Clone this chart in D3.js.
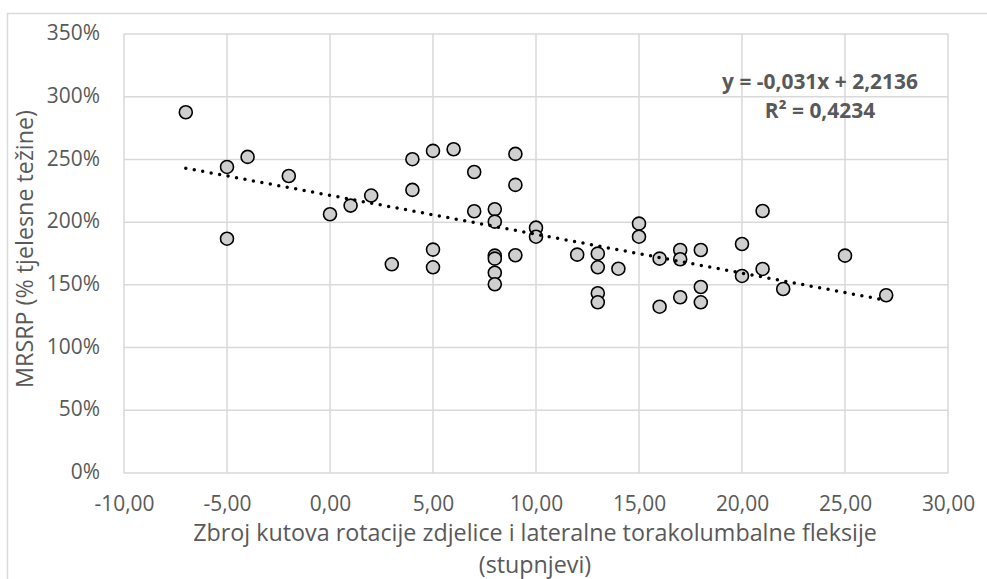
<!DOCTYPE html>
<html>
<head>
<meta charset="utf-8">
<script src="https://cdn.jsdelivr.net/npm/d3@7"></script>
<style>
  html, body { margin: 0; padding: 0; background: #ffffff; }
  svg { display: block; }
</style>
</head>
<body>
<div id="chart"></div>
<script>
// ---- data ----
const xValues = [-7, -5, -5, -4, -2, 0, 1, 2, 3, 4, 4, 5, 5, 5, 6, 7, 7,
  8, 8, 8, 8, 8, 8, 9, 9, 9, 10, 10, 12, 13, 13, 13, 13, 14, 15, 15,
  16, 16, 17, 17, 17, 18, 18, 18, 20, 20, 21, 21, 22, 25, 27];
const yValues = [2.876, 2.44, 1.868, 2.52, 2.368, 2.063, 2.132, 2.212, 1.664, 2.502, 2.257, 2.568, 1.781, 1.64, 2.581, 2.40, 2.087,
  2.103, 2.004, 1.733, 1.709, 1.597, 1.505, 2.544, 2.297, 1.736, 1.956, 1.884, 1.741, 1.749, 1.64, 1.433, 1.361, 1.629, 1.988, 1.884,
  1.709, 1.326, 1.778, 1.704, 1.401, 1.778, 1.483, 1.361, 1.826, 1.571, 2.089, 1.627, 1.467, 1.733, 1.417];
const xTicks = [-10, -5, 0, 5, 10, 15, 20, 25, 30];
const yTicks = [0, 0.5, 1, 1.5, 2, 2.5, 3, 3.5];
const trendSlope = -0.031;
const trendIntercept = 2.2136;
const equationLines = ["y = -0,031x + 2,2136", "R² = 0,4234"];
const xTitleLines = ["Zbroj kutova rotacije zdjelice i lateralne torakolumbalne fleksije", "(stupnjevi)"];
const yTitle = "MRSRP (% tjelesne težine)";

// ---- layout ----
const W = 987, H = 579;
const plot = { left: 124, right: 948, top: 34, bottom: 473 };
const FONT = "'Open Sans', 'Noto Sans', sans-serif";
const TXT = "#595959";
const GRID = "#d9d9d9";

const svg = d3.select("#chart").append("svg").attr("width", W).attr("height", H);

function fitSize(sample, target, weight) {
  const t = svg.append("text").attr("font-family", FONT).attr("font-size", 100)
    .attr("font-weight", weight || "normal").text(sample);
  const w = t.node().getComputedTextLength();
  t.remove();
  return 100 * target / w;
}
const tickSize = fitSize("-10,00", 60);
const titleSize = fitSize(xTitleLines[0], 684);
const eqSize = fitSize(equationLines[0], 196, "bold");

// chart outer border
svg.append("rect").attr("x", 7.5).attr("y", 13.5).attr("width", W + 20).attr("height", H + 20)
  .attr("fill", "none").attr("stroke", GRID).attr("stroke-width", 1.5);

const x = d3.scaleLinear().domain([-10, 30]).range([plot.left, plot.right]);
const y = d3.scaleLinear().domain([0, 3.5]).range([plot.bottom, plot.top]);

// gridlines
const g = svg.append("g");
g.selectAll("line.vg").data(xTicks).join("line").attr("class", "vg")
  .attr("x1", d => x(d)).attr("x2", d => x(d)).attr("y1", plot.top).attr("y2", plot.bottom)
  .attr("stroke", GRID).attr("stroke-width", 1.5);
g.selectAll("line.hg").data(yTicks).join("line").attr("class", "hg")
  .attr("y1", d => y(d)).attr("y2", d => y(d)).attr("x1", plot.left).attr("x2", plot.right)
  .attr("stroke", GRID).attr("stroke-width", 1.5);

// axes (labels only)
const xAxis = d3.axisBottom(x).tickValues(xTicks).tickSize(0).tickPadding(0)
  .tickFormat(d => d3.format(".2f")(d).replace(".", ",").replace("−", "-"));
const xa = svg.append("g").attr("transform", `translate(0,${plot.bottom})`).call(xAxis);
xa.select(".domain").remove();
xa.selectAll("text").attr("font-family", FONT).attr("font-size", tickSize).attr("fill", TXT)
  .attr("dy", null).attr("y", 32).attr("dominant-baseline", "middle");

const yAxis = d3.axisLeft(y).tickValues(yTicks).tickSize(0).tickPadding(0)
  .tickFormat(d3.format(".0%"));
const ya = svg.append("g").attr("transform", `translate(${plot.left},0)`).call(yAxis);
ya.select(".domain").remove();
ya.selectAll("text").attr("font-family", FONT).attr("font-size", tickSize).attr("fill", TXT)
  .attr("x", -24).attr("dy", null).attr("dominant-baseline", "middle");

// axis titles
svg.append("g").selectAll("text").data(xTitleLines).join("text")
  .attr("x", 535).attr("y", (d, i) => 535 + i * 32)
  .attr("text-anchor", "middle").attr("dominant-baseline", "middle")
  .attr("font-family", FONT).attr("font-size", titleSize).attr("fill", TXT).text(d => d);

svg.append("text").attr("transform", `translate(27,249) rotate(-90)`)
  .attr("text-anchor", "middle").attr("dominant-baseline", "middle")
  .attr("font-family", FONT).attr("font-size", titleSize).attr("fill", TXT).text(yTitle);

// points
const pts = xValues.map((v, i) => [v, yValues[i]]);
svg.append("g").selectAll("circle").data(pts).join("circle")
  .attr("cx", d => x(d[0])).attr("cy", d => y(d[1])).attr("r", 6.5)
  .attr("fill", "#d0cfcf").attr("stroke", "#000").attr("stroke-width", 1.6);

// trendline
const xMin = d3.min(xValues), xMax = d3.max(xValues);
const trend = [xMin, xMax].map(v => [v, trendSlope * v + trendIntercept]);
svg.append("path").datum(trend)
  .attr("d", d3.line().x(d => x(d[0])).y(d => y(d[1])))
  .attr("fill", "none").attr("stroke", "#000").attr("stroke-width", 3.5)
  .attr("stroke-linecap", "round").attr("stroke-dasharray", "0 8.6");

// equation
svg.append("g").selectAll("text").data(equationLines).join("text")
  .attr("x", 820).attr("y", (d, i) => 83 + i * 29)
  .attr("text-anchor", "middle").attr("dominant-baseline", "middle")
  .attr("font-family", FONT).attr("font-weight", "bold").attr("font-size", eqSize)
  .attr("fill", TXT).text(d => d);
</script>
</body>
</html>
